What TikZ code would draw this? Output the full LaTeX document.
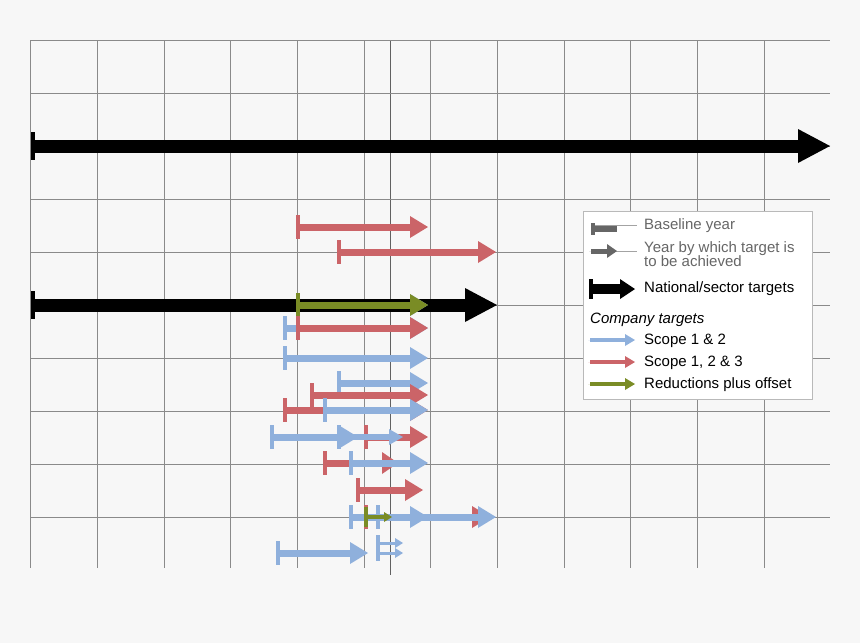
\documentclass[tikz,border=0pt]{standalone}
\usepackage{fontspec}
\setmainfont{Liberation Sans}
\definecolor{bg}{HTML}{F7F7F7}
\definecolor{gridc}{HTML}{8A8A8A}
\definecolor{sb}{HTML}{8FB0DC}
\definecolor{sr}{HTML}{CB6468}
\definecolor{sg}{HTML}{7A8C25}
\definecolor{lg}{HTML}{666666}
% \tgt{color}{y}{x0}{x1}{half shaft}{head len}{head half width}{tick half height}
\newcommand\tgt[8]{%
  \fill[#1] (#3,#2-#5) rectangle (#4-#6,#2+#5);
  \fill[#1] (#4-#6,#2-#7) -- (#4,#2) -- (#4-#6,#2+#7) -- cycle;
  \fill[#1] (#3-1.6,#2-#8) rectangle (#3+1.6,#2+#8);}
\newcommand\ta[4]{\tgt{#1}{#2}{#3}{#4}{3.5}{18}{11}{12}}
\begin{document}
\begin{tikzpicture}[x=1pt,y=-1pt,every node/.style={font=\fontsize{15}{14}\selectfont,inner sep=0pt,anchor=west,align=left}]
\fill[bg] (0,0) rectangle (860,643);
\useasboundingbox (0,0) rectangle (860,643);
\foreach \x in {30,97,164,230,297,364,430,497,564,630,697,764}
  \draw[gridc,line width=0.8] (\x,40) -- (\x,568);
\draw[gridc!70!black,line width=1] (390,40) -- (390,575);
\foreach \y in {40,93,146,199,252,305,358,411,464,517}
  \draw[gridc,line width=0.8] (30,\y) -- (830,\y);
% national targets
\tgt{black}{146}{33}{830}{6.5}{32}{17}{14}
\tgt{black}{305}{33}{497}{6.5}{32}{17}{14}
% company targets
\ta{sr}{227}{298}{428}
\ta{sr}{252}{339}{496}
\ta{sb}{305}{298}{428}
\tgt{sg}{305}{298}{428}{3.5}{18}{11}{12}
\ta{sb}{328}{285}{428}
\ta{sr}{328}{298}{428}
\ta{sb}{358}{285}{428}
\ta{sb}{383}{339}{428}
\ta{sr}{395}{312}{428}
\ta{sr}{410}{285}{428}
\ta{sb}{410}{325}{428}
\ta{sb}{437}{272}{358}
\ta{sr}{437}{366}{428}
\tgt{sb}{437}{339}{403}{3}{14}{8}{12}
\tgt{sr}{463}{325}{398}{3.5}{16}{11}{12}
\ta{sb}{463}{351}{428}
\ta{sr}{490}{358}{423}
\ta{sr}{517}{366}{490}
\ta{sb}{517}{351}{428}
\ta{sb}{517}{378}{496}
\tgt{sg}{517}{366}{392}{2}{8}{5}{10}
\tgt{sb}{543}{378}{403}{1.5}{8}{5}{8}
\tgt{sb}{553}{378}{403}{1.5}{8}{5}{8}
\ta{sb}{553}{278}{368}
% legend
\draw[gridc!60,fill=white] (583,211) rectangle (812,399);
\draw[lg!60,line width=0.6] (593,225) -- (637,225);
\tgt{lg}{229}{593}{617}{3}{0}{0}{6}
\draw[lg!60,line width=0.6] (593,251) -- (637,251);
\tgt{lg}{251}{591}{617}{2.5}{10}{7}{0}
\node[text=lg] (l1) at (644,226) {Baseline year};
\node[text=lg] (l2) at (644,254) {Year by which target is\\to be achieved};
\tgt{black}{289}{591}{635}{5}{15}{10}{10}
\node (l3) at (644,289) {National/sector targets};
\node (l4) at (590,320) {\itshape Company targets};
\tgt{sb}{340}{590}{635}{2}{10}{6}{0}
\node (l5) at (644,341) {Scope 1 \& 2};
\tgt{sr}{362}{590}{635}{2}{10}{6}{0}
\node (l6) at (644,363) {Scope 1, 2 \& 3};
\tgt{sg}{384}{590}{635}{2}{10}{6}{0}
\node (l7) at (644,385) {Reductions plus offset};
\end{tikzpicture}
\end{document}
